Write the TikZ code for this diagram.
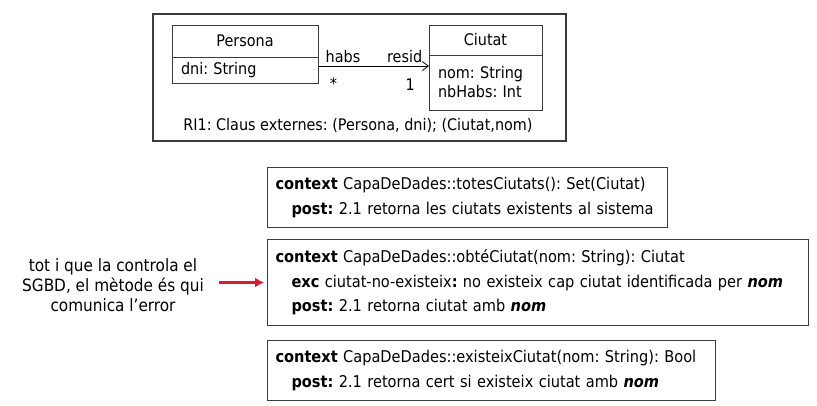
\documentclass[tikz,border=0pt]{standalone}
\usepackage{fontspec}
\setmainfont{DejaVu Sans Condensed}
\frenchspacing
\usetikzlibrary{positioning, arrows.meta}
\definecolor{boxgray}{RGB}{60,60,60}
\definecolor{arrowred}{RGB}{232,20,52}
\newcommand{\ind}{\hspace*{16pt}}
\tikzset{
	classhead/.style={draw=boxgray, line width=1pt, outer sep=0pt, inner sep=0pt, minimum height=32pt},
	classattr/.style={draw=boxgray, line width=1pt, outer sep=0pt, inner xsep=9pt, inner ysep=0pt, align=left},
	opbox/.style={draw=boxgray, line width=1pt, anchor=north west, align=left, inner xsep=8pt,
		font=\fontsize{16.2}{24.5}\selectfont},
	redarrow/.style={draw=arrowred, line width=2.6pt, -{Latex[length=9pt, width=10pt]}}
}
\begin{document}
\begin{tikzpicture}[x=1pt, y=-1pt, font=\fontsize{16}{19}\selectfont]
	\useasboundingbox (0,0) rectangle (817,405);
	%%% Marc del model
	\node[draw=boxgray, line width=1.8pt, minimum width=413pt, minimum height=127pt] (frame) at (359.5,77.5) {};
	%%% Classes
	\node[classhead, minimum width=146pt] (persona) at (245,41) {Persona};
	\node[classattr, text width=128pt, minimum height=26pt, below=0pt of persona] (personaattr) {dni: String};
	\node[classhead, minimum width=113pt, minimum height=30pt] (ciutat) at (485.5,40) {Ciutat};
	\node[classattr, text width=95pt, minimum height=55pt, below=0pt of ciutat] (ciutatattr) {nom: String\\nbHabs: Int};
	%%% Associacio
	\draw[-{Straight Barb[length=6pt, width=9pt]}, line width=0.8pt]
		([yshift=4pt]personaattr.east) -- ([yshift=4pt]personaattr.east -| ciutatattr.west)
		node [pos=0.225, above] {habs}
		node [pos=0.78, above] {resid}
		node [pos=0.14, below=8pt] {*}
		node [pos=0.83, below=9pt] {1};
	\node (ri) at (358,125) {RI1: Claus externes: (Persona, dni); (Ciutat,nom)};
	%%% Operacions
	\node[opbox, text width=384pt, minimum height=60pt] (totes) at (267,167)
		{\textbf{context} CapaDeDades::totesCiutats(): Set(Ciutat)\\
		 \ind\textbf{post:} 2.1 retorna les ciutats existents al sistema};
	\node[opbox, text width=525pt, minimum height=86pt, below=11pt of totes.south west, anchor=north west] (obte)
		{\textbf{context} CapaDeDades::obtéCiutat(nom: String): Ciutat\\
		 \ind\textbf{exc} ciutat-no-existeix\textbf{:} no existeix cap ciutat identificada per \textbf{\textit{nom}}\\
		 \ind\textbf{post:} 2.1 retorna ciutat amb \textbf{\textit{nom}}};
	\node[opbox, text width=432pt, minimum height=60pt, below=14pt of obte.south west, anchor=north west] (existeix)
		{\textbf{context} CapaDeDades::existeixCiutat(nom: String): Bool\\
		 \ind\textbf{post:} 2.1 retorna cert si existeix ciutat amb \textbf{\textit{nom}}};
	%%% Nota
	\node[align=center, font=\fontsize{17}{20}\selectfont] (note) at (113,285)
		{tot i que la controla el\\SGBD, el mètode és qui\\comunica l’error};
	\draw[redarrow, shorten <=12pt, shorten >=3pt] (note.east |- obte.west) -- (obte.west);
\end{tikzpicture}
\end{document}
